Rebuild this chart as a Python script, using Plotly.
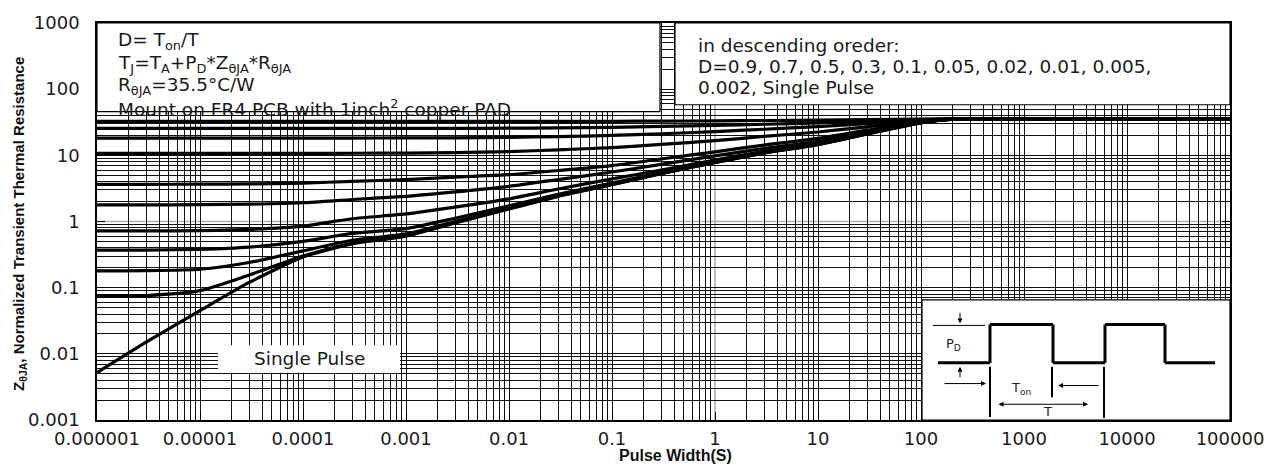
import plotly.graph_objects as go

# ---------------- data ----------------
pulse_width = [1e-6, 3e-6, 1e-5, 3e-5, 1e-4, 3e-4, 1e-3, 3e-3, 1e-2, 3e-2,
               0.1, 0.3, 1, 3, 10, 30, 100, 200, 500, 1e5]

z_d090 = [32.5, 32.5, 32.5, 32.5, 32.5, 32.5, 32.5, 32.5, 32.55, 32.6,
          32.7, 32.9, 33.2, 33.6, 34.0, 34.6, 35.3, 35.5, 35.5, 35.5]
z_d070 = [25.5, 25.5, 25.5, 25.5, 25.5, 25.5, 25.55, 25.6, 25.7, 26.0,
          26.5, 27.3, 28.3, 29.5, 31.0, 32.8, 34.8, 35.5, 35.5, 35.5]
z_d050 = [18.2, 18.2, 18.2, 18.2, 18.2, 18.25, 18.3, 18.4, 18.7, 19.2,
          20.0, 21.2, 22.8, 24.8, 27.2, 30.2, 34.0, 35.5, 35.5, 35.5]
z_d030 = [10.7, 10.7, 10.7, 10.7, 10.7, 10.75, 10.8, 11.0, 11.4, 12.1,
          13.1, 14.6, 16.7, 19.3, 22.5, 27.0, 33.3, 35.4, 35.5, 35.5]
z_d010 = [3.65, 3.65, 3.67, 3.7, 3.8, 4.05, 4.3, 4.7, 5.1, 5.9,
          7.0, 8.8, 11.3, 14.3, 18.0, 24.0, 32.6, 35.4, 35.5, 35.5]
z_d005 = [1.78, 1.78, 1.8, 1.83, 1.92, 2.15, 2.4, 2.8, 3.4, 4.3,
          5.6, 7.3, 9.8, 12.7, 16.3, 22.5, 32.0, 35.4, 35.5, 35.5]
z_d002 = [0.72, 0.72, 0.73, 0.76, 0.85, 1.1, 1.3, 1.65, 2.2, 3.1,
          4.4, 6.0, 8.5, 11.5, 15.3, 21.8, 31.6, 35.3, 35.5, 35.5]
z_d001 = [0.37, 0.37, 0.38, 0.41, 0.5, 0.66, 0.78, 1.12, 1.72, 2.58,
          3.8, 5.5, 8.0, 11.0, 14.9, 21.5, 31.4, 35.3, 35.5, 35.5]
z_d0005 = [0.18, 0.181, 0.19, 0.24, 0.36, 0.52, 0.65, 1.0, 1.6, 2.46,
           3.66, 5.36, 7.88, 10.9, 14.7, 21.3, 31.2, 35.2, 35.5, 35.5]
z_d0002 = [0.075, 0.076, 0.09, 0.155, 0.3, 0.47, 0.61, 0.96, 1.57, 2.42,
           3.62, 5.32, 7.82, 10.85, 14.6, 21.1, 31.1, 35.1, 35.5, 35.5]
z_single = [0.0052, 0.015, 0.045, 0.12, 0.29, 0.46, 0.6, 0.95, 1.55, 2.4,
            3.6, 5.3, 7.8, 10.8, 14.5, 21.0, 31.0, 35.0, 35.5, 35.5]

curve_names = ["D=0.9", "D=0.7", "D=0.5", "D=0.3", "D=0.1", "D=0.05",
               "D=0.02", "D=0.01", "D=0.005", "D=0.002", "Single Pulse"]
curve_values = [z_d090, z_d070, z_d050, z_d030, z_d010, z_d005,
                z_d002, z_d001, z_d0005, z_d0002, z_single]

x_tick_vals = [1e-6, 1e-5, 1e-4, 1e-3, 1e-2, 1e-1, 1, 10, 100, 1000, 10000, 100000]
x_tick_text = ["0.000001", "0.00001", "0.0001", "0.001", "0.01", "0.1",
               "1", "10", "100", "1000", "10000", "100000"]
y_tick_vals = [0.001, 0.01, 0.1, 1, 10, 100, 1000]
y_tick_text = ["0.001", "0.01", "0.1", "1", "10", "100", "1000"]

# black grid: every 1..9 multiple per decade except the grey line at 1
x_grid_vals = [k * 10.0 ** e for e in range(-6, 5) for k in range(1, 10)
               if not (k == 1 and e == 0)] + [1e5]
y_grid_vals = [k * 10.0 ** e for e in range(-3, 3) for k in range(1, 10)
               if not (k == 1 and e == 0)] + [1000]

# ---------------- layout geometry (pixels) ----------------
W, H = 1279, 466
L, R, T, B = 97, 1230, 17, 420


def px(X):
    return (X - L) / (R - L)


def py(Y):
    return (B - Y) / (B - T)


TICK_FONT = dict(family="DejaVu Sans", size=18, color="#1a1a1a")
BOX_FONT = dict(family="DejaVu Sans", size=18.5, color="#1a1a1a")

fig = go.Figure()
for name, vals in zip(curve_names, curve_values):
    fig.add_trace(go.Scatter(
        x=pulse_width, y=vals, mode="lines", name=name,
        line=dict(color="black", width=3.2, shape="spline", smoothing=0.6),
        hoverinfo="name+x+y"))

axis_common = dict(
    type="log", showline=True, linecolor="black", linewidth=1.5, mirror="allticks",
    ticks="inside", ticklen=8, tickcolor="black", tickwidth=1.2,
    showgrid=False, zeroline=False,
    tickfont=TICK_FONT, tickmode="array",
)

fig.update_xaxes(
    **axis_common, range=[-6, 5], tickvals=x_tick_vals, ticktext=x_tick_text,
    ticklabelstandoff=2,
    minor=dict(tickmode="array", tickvals=x_grid_vals, showgrid=True,
               gridcolor="#111111", gridwidth=1.4, ticks="inside", ticklen=4,
               tickcolor="black"),
)
fig.update_yaxes(
    **axis_common, range=[-3, 3], tickvals=y_tick_vals, ticktext=y_tick_text,
    ticklabelstandoff=12,
    minor=dict(tickmode="array", tickvals=y_grid_vals, showgrid=True,
               gridcolor="#111111", gridwidth=1.4, ticks="inside", ticklen=4,
               tickcolor="black"),
)

shapes = []
# light grey grid lines at 1 (below everything)
shapes.append(dict(type="line", xref="x", yref="paper", x0=1, x1=1, y0=0, y1=1,
                   line=dict(color="#b0b0b0", width=1.6), layer="below"))
shapes.append(dict(type="line", xref="paper", yref="y", x0=0, x1=1, y0=1, y1=1,
                   line=dict(color="#b0b0b0", width=1.6), layer="below"))


def rect(x0, y0, x1, y1, border=True):
    shapes.append(dict(type="rect", xref="paper", yref="paper",
                       x0=px(x0), x1=px(x1), y0=py(y1), y1=py(y0),
                       fillcolor="white",
                       line=dict(color="black", width=1.2 if border else 0),
                       layer="above"))


rect(97, 17, 660, 107)      # conditions box
rect(675, 17, 1230, 100)    # order box
rect(218, 344, 400, 372, border=False)  # single pulse label
rect(922, 298, 1230, 420)   # pulse inset


def seg(x0, y0, x1, y1, w=1.2):
    shapes.append(dict(type="line", xref="paper", yref="paper",
                       x0=px(x0), x1=px(x1), y0=py(y0), y1=py(y1),
                       line=dict(color="black", width=w), layer="above"))


# pulse waveform
wave_x = [938, 990, 990, 1053, 1053, 1105, 1105, 1165, 1165, 1215]
wave_y = [362, 362, 323, 323, 362, 362, 323, 323, 362, 362]
for i in range(len(wave_x) - 1):
    seg(wave_x[i], wave_y[i], wave_x[i + 1], wave_y[i + 1], w=3)
seg(933, 324, 985, 324, 1)
seg(990, 366, 990, 417, 2)
seg(1052, 366, 1052, 397, 2)
seg(1104, 366, 1104, 418, 2)

annotations = []


def text(x, y, s, font, anchor="left"):
    annotations.append(dict(x=px(x), y=py(y), xref="paper", yref="paper",
                            text=s, showarrow=False, xanchor=anchor,
                            yanchor="middle", font=font))


def arrow(xt, yt, xs, ys, side="end"):
    annotations.append(dict(x=px(xt), y=py(yt), xref="paper", yref="paper",
                            ax=xs - xt, ay=ys - yt, axref="pixel", ayref="pixel",
                            text="", showarrow=True, arrowhead=2, arrowsize=1,
                            arrowwidth=1, arrowcolor="black", arrowside=side))


text(116, 35, "D= T<sub>on</sub>/T", BOX_FONT)
text(116, 59, "T<sub>J</sub>=T<sub>A</sub>+P<sub>D</sub>*Z<sub>θJA</sub>*R<sub>θJA</sub>", BOX_FONT)
text(116, 81, "R<sub>θJA</sub>=35.5°C/W", BOX_FONT)
text(116, 103, "Mount on FR4 PCB with 1inch<sup>2</sup> copper PAD", BOX_FONT)

text(696, 40, "in descending oreder:", BOX_FONT)
text(696, 61, "D=0.9, 0.7, 0.5, 0.3, 0.1, 0.05, 0.02, 0.01, 0.005,", BOX_FONT)
text(696, 82, "0.002, Single Pulse", BOX_FONT)

text(309, 358, "Single Pulse", BOX_FONT, anchor="center")

SMALL = dict(family="DejaVu Sans", size=13, color="#222222")
text(953, 343, "P<sub>D</sub>", SMALL, anchor="center")
text(1021, 388, "T<sub>on</sub>", SMALL, anchor="center")
text(1047, 411, "T", SMALL, anchor="center")

arrow(960, 322, 960, 310)
arrow(960, 366, 960, 378)
arrow(986, 383, 943, 383)
arrow(1058, 385, 1100, 385)
annotations.append(dict(x=px(1088), y=py(404), xref="paper", yref="paper",
                        ax=997 - 1088, ay=0, axref="pixel", ayref="pixel",
                        text="", showarrow=True, arrowhead=2, startarrowhead=2,
                        arrowsize=1, startarrowsize=1, arrowwidth=1,
                        arrowcolor="black", arrowside="end+start"))

# axis titles
annotations.append(dict(x=px(675), y=py(456), xref="paper", yref="paper",
                        text="<b>Pulse Width(S)</b>", showarrow=False,
                        xanchor="center", yanchor="middle",
                        font=dict(family="Liberation Sans", size=16, color="#111")))
annotations.append(dict(x=px(20), y=py(221), xref="paper", yref="paper",
                        text="<b>Z<sub>θJA</sub>, Normalized Transient Thermal Resistance</b>",
                        showarrow=False, textangle=-90,
                        xanchor="center", yanchor="middle",
                        font=dict(family="Liberation Sans", size=15, color="#111")))

fig.update_layout(
    width=W, height=H,
    margin=dict(l=L, r=W - R, t=T, b=H - B),
    paper_bgcolor="white", plot_bgcolor="white",
    showlegend=False,
    shapes=shapes, annotations=annotations,
)

fig.write_html("out.html")
